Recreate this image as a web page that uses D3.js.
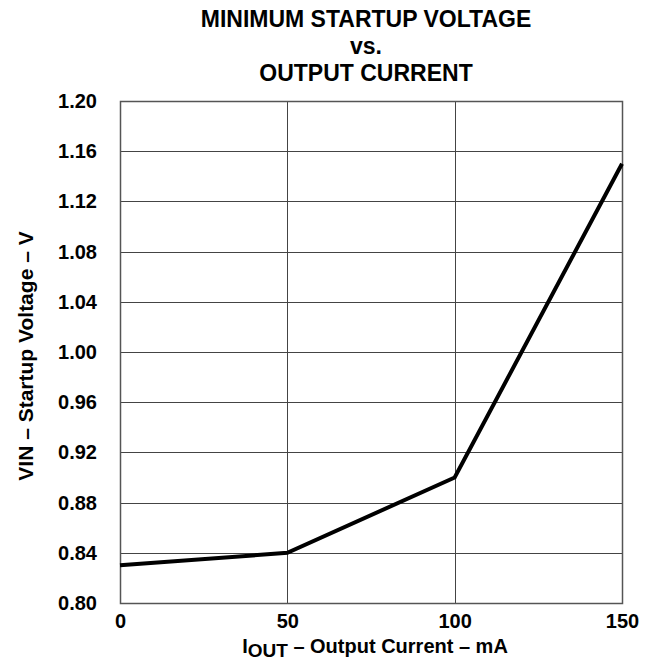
<!DOCTYPE html>
<html>
<head>
<meta charset="utf-8">
<script src="https://cdn.jsdelivr.net/npm/d3@7"></script>
<style>
  body { margin: 0; background: #fff; }
  text { font-family: "Liberation Sans", Arial, sans-serif; font-weight: bold; fill: #000; }
</style>
</head>
<body>
<svg width="659" height="662"></svg>
<script>
// data
var current = [0, 50, 100, 150];
var voltage = [0.83, 0.84, 0.90, 1.15];
var xTicks = [0, 50, 100, 150];
var yTicks = [0.80, 0.84, 0.88, 0.92, 0.96, 1.00, 1.04, 1.08, 1.12, 1.16, 1.20];
var titleLines = ["MINIMUM STARTUP VOLTAGE", "vs.", "OUTPUT CURRENT"];

var margin = { top: 101, left: 120 },
    width = 502,
    height = 502;

var svg = d3.select("svg");
var g = svg.append("g")
    .attr("transform", "translate(" + margin.left + "," + margin.top + ")");

var x = d3.scaleLinear().domain([0, 150]).range([0, width]);
var y = d3.scaleLinear().domain([0.80, 1.20]).range([height, 0]);

// grid
g.selectAll("line.hgrid")
    .data(yTicks)
    .enter().append("line")
    .attr("class", "hgrid")
    .attr("x1", 0).attr("x2", width)
    .attr("y1", function (d) { return Math.round(y(d)) + 0.5; })
    .attr("y2", function (d) { return Math.round(y(d)) + 0.5; })
    .attr("stroke", "#444").attr("stroke-width", 1);

g.selectAll("line.vgrid")
    .data(xTicks)
    .enter().append("line")
    .attr("class", "vgrid")
    .attr("y1", 0).attr("y2", height)
    .attr("x1", function (d) { return Math.round(x(d)) + 0.5; })
    .attr("x2", function (d) { return Math.round(x(d)) + 0.5; })
    .attr("stroke", "#444").attr("stroke-width", 1);

// frame
g.append("rect")
    .attr("x", 0.5).attr("y", 0.5)
    .attr("width", width).attr("height", height)
    .attr("fill", "none").attr("stroke", "#555").attr("stroke-width", 1.5);

// axes (labels only)
var yAxis = g.append("g")
    .call(d3.axisLeft(y).tickValues(yTicks).tickFormat(d3.format(".2f")).tickSize(0).tickPadding(23));
var xAxis = g.append("g")
    .attr("transform", "translate(0," + height + ")")
    .call(d3.axisBottom(x).tickValues(xTicks).tickSize(0).tickPadding(11));
[yAxis, xAxis].forEach(function (a) {
    a.select(".domain").remove();
    a.selectAll("text").style("font-size", "20px")
        .style("font-family", "'Liberation Sans', Arial, sans-serif")
        .style("font-weight", "bold");
});

// curve
var pts = current.map(function (c, i) { return [c, voltage[i]]; });
g.append("path")
    .datum(pts)
    .attr("fill", "none")
    .attr("stroke", "#000")
    .attr("stroke-width", 4)
    .attr("d", d3.line()
        .x(function (d) { return x(d[0]); })
        .y(function (d) { return y(d[1]); }));

// title
svg.selectAll("text.title")
    .data(titleLines)
    .enter().append("text")
    .attr("class", "title")
    .attr("x", 366)
    .attr("y", function (d, i) { return 27 + i * 27; })
    .attr("text-anchor", "middle")
    .style("font-size", "23px")
    .text(function (d) { return d; });

// y label
svg.append("text")
    .attr("transform", "translate(33,356) rotate(-90)")
    .attr("text-anchor", "middle")
    .style("font-size", "21px")
    .text("VIN – Startup Voltage – V");

// x label with subscript
var xl = svg.append("text")
    .attr("x", 375)
    .attr("y", 653)
    .attr("text-anchor", "middle")
    .style("font-size", "20px");
xl.append("tspan").text("I");
xl.append("tspan").attr("dy", 4).style("font-size", "19px").text("OUT");
xl.append("tspan").attr("dy", -4).text(" – Output Current – mA");
</script>
</body>
</html>
